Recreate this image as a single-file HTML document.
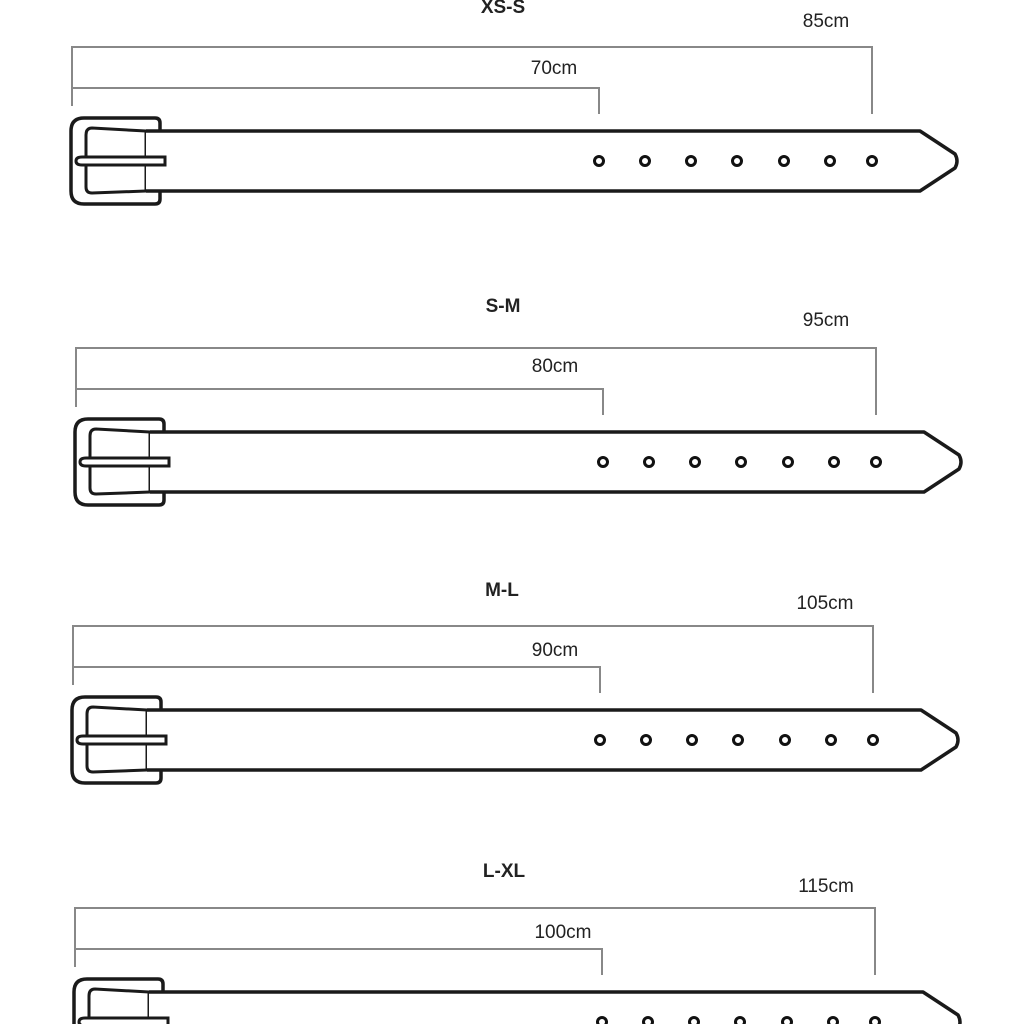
<!DOCTYPE html>
<html><head><meta charset="utf-8"><style>
html,body{margin:0;padding:0;background:#fff;}
svg{display:block;}
text{font-family:"Liberation Sans",sans-serif;fill:#222;}
</style></head><body>
<svg width="1024" height="1024" viewBox="0 0 1024 1024" xmlns="http://www.w3.org/2000/svg">
<defs>
<g id="belt">
  <path d="M72 106 V47 H872 V114" fill="none" stroke="#888" stroke-width="2"/>
  <path d="M72 88 H599 V114" fill="none" stroke="#888" stroke-width="2"/>
  <path d="M160 130 V123 Q160 118 155 118 H84 Q71 118 71 131 V191 Q71 204 84 204 H155 Q160 204 160 199 V191" fill="none" stroke="#1a1a1a" stroke-width="3.5"/>
  <path d="M146 131 L92 128 Q86 128 86 135 V187 Q86 193 92 193 L146 191" fill="none" stroke="#1a1a1a" stroke-width="3"/>
  <line x1="146" y1="130" x2="146" y2="192" stroke="#1a1a1a" stroke-width="3"/>
  <path d="M146 131 H920 L955 154 Q959 161 955 168 L920 191 H146" fill="#fff" stroke="#1a1a1a" stroke-width="3.5" stroke-linejoin="round"/>
  <path d="M82 157 H165 V165 H82 Q76 165 76 161 Q76 157 82 157 Z" fill="#fff" stroke="#1a1a1a" stroke-width="3"/>
  <g fill="#fff" stroke="#111" stroke-width="3">
    <circle cx="599" cy="161" r="4.5"/><circle cx="645" cy="161" r="4.5"/><circle cx="691" cy="161" r="4.5"/>
    <circle cx="737" cy="161" r="4.5"/><circle cx="784" cy="161" r="4.5"/><circle cx="830" cy="161" r="4.5"/>
    <circle cx="872" cy="161" r="4.5"/>
  </g>
</g>
</defs>

<use href="#belt" transform="translate(0,0)"/>
<text x="503" y="13" font-size="19" font-weight="bold" text-anchor="middle">XS-S</text>
<text x="826" y="27" font-size="19" text-anchor="middle">85cm</text>
<text x="554" y="74" font-size="19" text-anchor="middle">70cm</text>

<use href="#belt" transform="translate(4,301)"/>
<text x="503" y="312" font-size="19" font-weight="bold" text-anchor="middle">S-M</text>
<text x="826" y="326" font-size="19" text-anchor="middle">95cm</text>
<text x="555" y="372" font-size="19" text-anchor="middle">80cm</text>

<use href="#belt" transform="translate(1,579)"/>
<text x="502" y="596" font-size="19" font-weight="bold" text-anchor="middle">M-L</text>
<text x="825" y="609" font-size="19" text-anchor="middle">105cm</text>
<text x="555" y="656" font-size="19" text-anchor="middle">90cm</text>

<use href="#belt" transform="translate(3,861)"/>
<text x="504" y="877" font-size="19" font-weight="bold" text-anchor="middle">L-XL</text>
<text x="826" y="892" font-size="19" text-anchor="middle">115cm</text>
<text x="563" y="938" font-size="19" text-anchor="middle">100cm</text>
</svg>
</body></html>
